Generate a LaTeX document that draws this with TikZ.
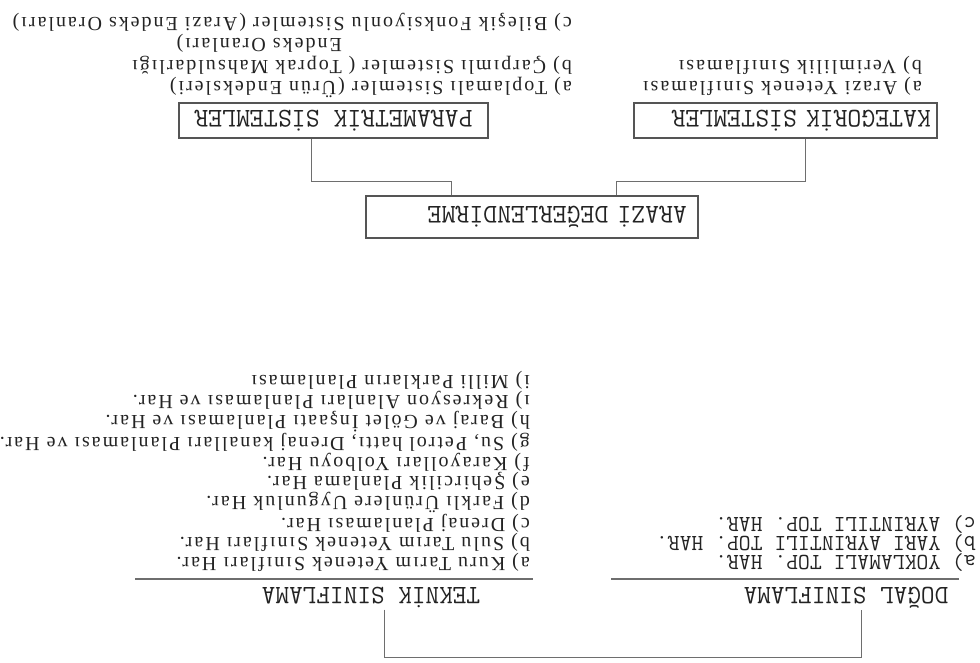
\documentclass[tikz,border=0pt]{standalone}
\usepackage{fontspec}
\usepackage{xcolor}
\usepackage{tikz}
\usetikzlibrary{positioning}
\newfontfamily\monofam{Latin Modern Mono}
\newfontfamily\seriffam[LetterSpace=10]{Liberation Serif}
\definecolor{inkgray}{RGB}{35,35,35}
\definecolor{boxgray}{RGB}{85,85,85}
\definecolor{linegray}{RGB}{110,110,110}
\tikzset{
  sysbox/.style={
    rectangle, draw=boxgray, line width=1.1pt, minimum height=35pt,
    inner ysep=0pt, font=\monofam\fontsize{27}{27}\selectfont, text=inkgray
  },
  heading/.style={
    inner sep=0pt, anchor=base, font=\monofam\fontsize{26.5}{26.5}\selectfont,
    text=inkgray
  },
  itemlist/.style={
    inner sep=0pt, anchor=north west, align=left,
    font=\seriffam\fontsize{20}{19.8}\selectfont, text=inkgray
  },
  capslist/.style={
    itemlist, font=\monofam\fontsize{23}{19.2}\selectfont
  },
  link/.style={draw=linegray, line width=1pt},
  headrule/.style={draw=linegray, line width=1.2pt}
}
\begin{document}
\begin{tikzpicture}[x=1pt, y=1pt, rotate=180, transform shape]
  \path[fill=white, use as bounding box] (0,0) rectangle (980,663);

  % Evaluation branch
  \node[sysbox, minimum height=42pt, text width=310pt, inner xsep=11pt,
        align=left] (arazi) at (448,217)
    {ARAZİ DEĞERLENDİRME};
  \node[sysbox, text width=291pt, inner xsep=6pt, align=left] (kateg)
    at (194.5,120.5) {KATEGORİK SİSTEMLER};
  \node[sysbox, minimum width=309pt] (param) at (646.5,120.5)
    {PARAMETRİK SİSTEMLER};

  \draw[link] ([xshift=-85pt]arazi.south) -- ++(0,-14)
    -| ([xshift=-20.5pt]kateg.north);
  \draw[link] ([xshift=80pt]arazi.south) -- ++(0,-14)
    -| ([xshift=21.5pt]param.north);

  \node[itemlist, font=\seriffam\fontsize{20}{21}\selectfont] (kateg_list)
    at (58,96)
    {a) Arazi Yetenek Sınıflaması\\
     b) Verimlilik Sınıflaması};
  \node[itemlist, font=\seriffam\fontsize{20}{21.5}\selectfont] (param_list)
    at (408,98)
    {a) Toplamalı Sistemler (Ürün Endeksleri)\\
     b) Çarpımlı Sistemler ( Toprak Mahsuldarlığı\\
     \hspace*{230pt}Endeks Oranları)\\
     c) Bileşik Fonksiyonlu Sistemler (Arazi Endeks Oranları)};

  % Classification branch
  \node[heading] (teknik) at (609,587) {TEKNİK SINIFLAMA};
  \node[heading] (dogal) at (134,587) {DOĞAL SINIFLAMA};
  \draw[headrule] (447,579) -- (845,579);
  \draw[headrule] (21,579) -- (369,579);

  \draw[link] ([xshift=-14pt,yshift=2pt]teknik.north) -- ++(0,48)
    -| ([xshift=-16pt,yshift=2pt]dogal.north);

  \node[itemlist] (teknik_list) at (450,572)
    {a) Kuru Tarım Yetenek Sınıfları Har.\\
     b) Sulu Tarım Yetenek Sınıfları Har.\\
     c) Drenaj Planlaması Har.\\
     d) Farklı Ürünlere Uygunluk Har.\\
     e) Şehircilik Planlama Har.\\
     f) Karayolları Yolboyu Har.\\
     g) Su, Petrol hattı, Drenaj kanalları Planlaması ve Har.\\
     h) Baraj ve Gölet İnşaatı Planlaması ve Har.\\
     ı) Rekresyon Alanları Planlaması ve Har.\\
     i) Milli Parkların Planlaması};
  \node[capslist] (dogal_list) at (4,572)
    {a) YOKLAMALI TOP. HAR.\\
     b) YARI AYRINTILI TOP. HAR.\\
     c) AYRINTILI TOP. HAR.};
\end{tikzpicture}
\end{document}
